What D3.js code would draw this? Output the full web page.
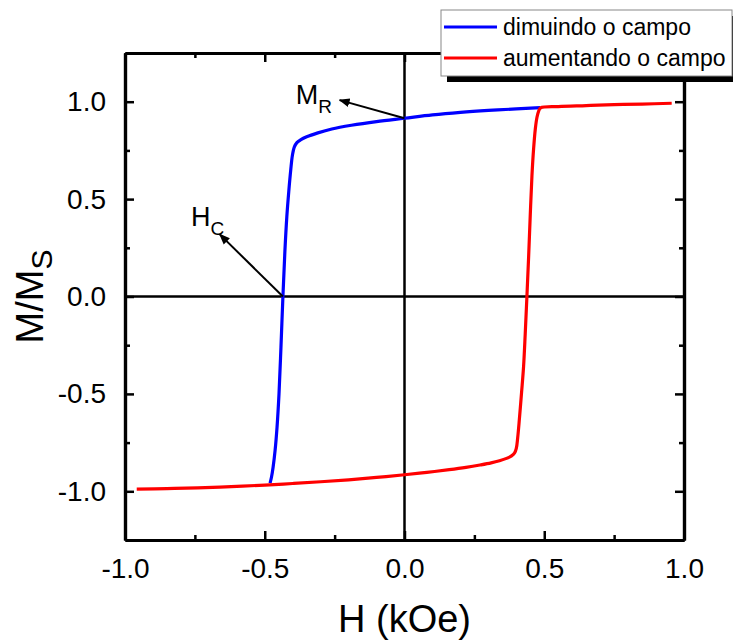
<!DOCTYPE html>
<html>
<head>
<meta charset="utf-8">
<script src="https://cdn.jsdelivr.net/npm/d3@7"></script>
<style>
  html, body { margin: 0; padding: 0; background: #fff; }
  svg { display: block; font-family: "Liberation Sans", Arial, sans-serif; }
</style>
</head>
<body>
<svg id="chart" width="733" height="644"></svg>
<script>
// Hysteresis loop, normalised magnetisation vs applied field
// Branch recorded while the field is decreasing (from +H down to -H)
const decreasingH = [0.486, 0.40, 0.30, 0.20, 0.10, 0.00, -0.10, -0.19, -0.26, -0.31, -0.35, -0.372, -0.385, -0.394, -0.401, -0.407, -0.414, -0.421, -0.428, -0.435, -0.442, -0.449, -0.456, -0.463, -0.470, -0.476, -0.481];
const decreasingM = [0.970, 0.963, 0.955, 0.945, 0.932, 0.915, 0.898, 0.879, 0.860, 0.840, 0.820, 0.804, 0.790, 0.768, 0.725, 0.650, 0.540, 0.410, 0.230, 0.000, -0.260, -0.500, -0.670, -0.790, -0.875, -0.928, -0.958];

// Branch recorded while the field is increasing (from -H up to +H)
const increasingH = [-0.958, -0.85, -0.74, -0.62, -0.50, -0.40, -0.30, -0.20, -0.10, 0.00, 0.08, 0.16, 0.22, 0.27, 0.31, 0.34, 0.365, 0.383, 0.394, 0.400, 0.405, 0.411, 0.419, 0.426, 0.432, 0.438, 0.444, 0.450, 0.456, 0.462, 0.468, 0.474, 0.480, 0.487, 0.55, 0.65, 0.75, 0.85, 0.956];
const increasingM = [-0.989, -0.986, -0.982, -0.976, -0.968, -0.960, -0.951, -0.941, -0.929, -0.915, -0.903, -0.889, -0.877, -0.865, -0.854, -0.843, -0.831, -0.818, -0.803, -0.780, -0.725, -0.630, -0.490, -0.360, -0.190, 0.000, 0.200, 0.420, 0.620, 0.760, 0.860, 0.920, 0.952, 0.968, 0.975, 0.980, 0.985, 0.988, 0.992];

const seriesNames = ["dimuindo o campo", "aumentando o campo"];

// Axis ticks
const xMajorTicks = [-1.0, -0.5, 0.0, 0.5, 1.0];
const xMinorTicks = [-0.75, -0.25, 0.25, 0.75];
const yMajorTicks = [-1.0, -0.5, 0.0, 0.5, 1.0];
const yMinorTicks = [-0.75, -0.25, 0.25, 0.75];

// Annotations: remanence (M_R) and coercive field (H_C)
const remanencePoint = [0.0, 0.915];
const remanenceArrowTip = [-0.232, 1.008];
const remanenceLabelAt = [-0.389, 0.987];
const coercivePoint = [-0.435, 0.0];
const coerciveArrowTip = [-0.661, 0.319];
const coerciveLabelAt = [-0.764, 0.361];

const svg = d3.select("#chart");

const x = d3.scaleLinear().domain([-1, 1]).range([125, 684]);
const y = d3.scaleLinear().domain([-1.25, 1.25]).range([540, 53]);

// plain hyphen for negative tick labels
const fmt = v => d3.format(".1f")(v).replace("\u2212", "-");
const tickFont = 28;

// Zero reference lines
svg.append("line")
  .attr("x1", x(-1)).attr("x2", x(1))
  .attr("y1", y(0)).attr("y2", y(0))
  .attr("stroke", "#000").attr("stroke-width", 2.5);
svg.append("line")
  .attr("x1", x(0)).attr("x2", x(0))
  .attr("y1", y(-1.25)).attr("y2", y(1.25))
  .attr("stroke", "#000").attr("stroke-width", 2.5);

// Curves
const curveLine = d3.line().x(d => x(d[0])).y(d => y(d[1])).curve(d3.curveCatmullRom.alpha(0.5));

const decPts = decreasingH.map((h, i) => [h, decreasingM[i]]);
const incPts = increasingH.map((h, i) => [h, increasingM[i]]);

svg.append("path")
  .attr("d", curveLine(decPts))
  .attr("fill", "none").attr("stroke", "#0000ff").attr("stroke-width", 3.2)
  .attr("stroke-linejoin", "round");
svg.append("path")
  .attr("d", curveLine(incPts))
  .attr("fill", "none").attr("stroke", "#ff0000").attr("stroke-width", 3.2)
  .attr("stroke-linejoin", "round");

// Axes (ticks pointing inward, mirrored on top and right)
function styleAxis(g) {
  g.select(".domain").attr("stroke", "#000").attr("stroke-width", 3.2);
  g.selectAll(".tick line").attr("stroke", "#000").attr("stroke-width", 2.5);
  g.selectAll(".tick text").attr("font-size", tickFont).attr("fill", "#000")
    .attr("font-family", "'Liberation Sans', Arial, sans-serif");
}

// minor ticks
svg.append("g").attr("transform", `translate(0,${y(-1.25)})`)
  .call(d3.axisBottom(x).tickValues(xMinorTicks).tickSize(-5).tickFormat("").tickSizeOuter(0))
  .call(styleAxis);
svg.append("g").attr("transform", `translate(0,${y(1.25)})`)
  .call(d3.axisTop(x).tickValues(xMinorTicks).tickSize(-5).tickFormat("").tickSizeOuter(0))
  .call(styleAxis);
svg.append("g").attr("transform", `translate(${x(-1)},0)`)
  .call(d3.axisLeft(y).tickValues(yMinorTicks).tickSize(-5).tickFormat("").tickSizeOuter(0))
  .call(styleAxis);
svg.append("g").attr("transform", `translate(${x(1)},0)`)
  .call(d3.axisRight(y).tickValues(yMinorTicks).tickSize(-5).tickFormat("").tickSizeOuter(0))
  .call(styleAxis);

// major ticks
svg.append("g").attr("transform", `translate(0,${y(-1.25)})`)
  .call(d3.axisBottom(x).tickValues(xMajorTicks).tickSize(-9).tickPadding(18).tickFormat(fmt).tickSizeOuter(0))
  .call(styleAxis);
svg.append("g").attr("transform", `translate(0,${y(1.25)})`)
  .call(d3.axisTop(x).tickValues(xMajorTicks).tickSize(-9).tickFormat("").tickSizeOuter(0))
  .call(styleAxis);
svg.append("g").attr("transform", `translate(${x(-1)},0)`)
  .call(d3.axisLeft(y).tickValues(yMajorTicks).tickSize(-9).tickPadding(19).tickFormat(fmt).tickSizeOuter(0))
  .call(styleAxis);
svg.append("g").attr("transform", `translate(${x(1)},0)`)
  .call(d3.axisRight(y).tickValues(yMajorTicks).tickSize(-9).tickFormat("").tickSizeOuter(0))
  .call(styleAxis);

// Arrow marker
const defs = svg.append("defs");
defs.append("marker")
  .attr("id", "arrowhead")
  .attr("viewBox", "0 0 10 10")
  .attr("refX", 9).attr("refY", 5)
  .attr("markerWidth", 5.5).attr("markerHeight", 5.5)
  .attr("markerUnits", "strokeWidth")
  .attr("orient", "auto")
  .append("path").attr("d", "M0,1 L10,5 L0,9 z").attr("fill", "#000");

function arrow(from, to) {
  svg.append("line")
    .attr("x1", x(from[0])).attr("y1", y(from[1]))
    .attr("x2", x(to[0])).attr("y2", y(to[1]))
    .attr("stroke", "#000").attr("stroke-width", 2)
    .attr("marker-end", "url(#arrowhead)");
}
arrow(remanencePoint, remanenceArrowTip);
arrow(coercivePoint, coerciveArrowTip);

function subLabel(at, main, sub) {
  const t = svg.append("text")
    .attr("x", x(at[0])).attr("y", y(at[1]))
    .attr("font-size", 27).attr("fill", "#000");
  t.append("tspan").text(main);
  t.append("tspan").attr("font-size", 19).attr("dy", 9).text(sub);
}
subLabel(remanenceLabelAt, "M", "R");
subLabel(coerciveLabelAt, "H", "C");

// Axis titles
svg.append("text")
  .attr("x", x(0)).attr("y", 632)
  .attr("text-anchor", "middle")
  .attr("font-size", 38).attr("fill", "#000")
  .text("H (kOe)");

const yTitle = svg.append("text")
  .attr("transform", `translate(43,${y(0)}) rotate(-90)`)
  .attr("text-anchor", "middle")
  .attr("font-size", 38).attr("fill", "#000");
yTitle.append("tspan").text("M/M");
yTitle.append("tspan").attr("font-size", 30).attr("dy", 9).text("S");

// Legend with drop shadow
const legend = svg.append("g").attr("transform", "translate(441,10)");
legend.append("rect")
  .attr("x", 6).attr("y", 6).attr("width", 292).attr("height", 66)
  .attr("fill", "#000");
legend.append("rect")
  .attr("x", 0).attr("y", 0).attr("width", 291).attr("height", 66)
  .attr("fill", "#fff").attr("stroke", "#888").attr("stroke-width", 1);
const legendColors = ["#0000ff", "#ff0000"];
seriesNames.forEach((name, i) => {
  const cy = 17 + i * 31;
  legend.append("line")
    .attr("x1", 3).attr("x2", 56).attr("y1", cy).attr("y2", cy)
    .attr("stroke", legendColors[i]).attr("stroke-width", 3);
  legend.append("text")
    .attr("x", 62).attr("y", cy + 8)
    .attr("font-size", 23).attr("fill", "#000")
    .text(name);
});
</script>
</body>
</html>
